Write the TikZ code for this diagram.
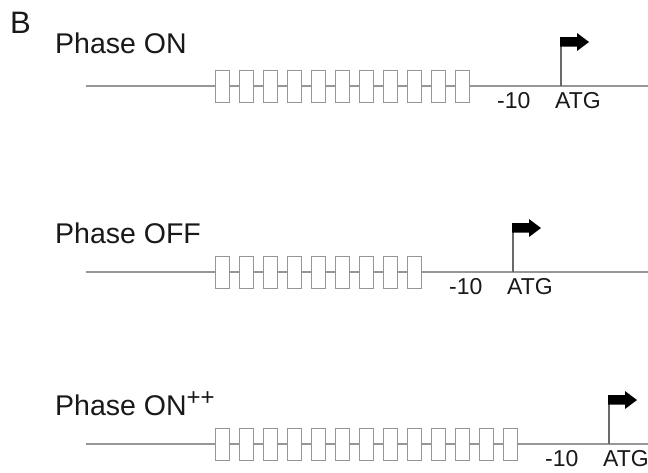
\documentclass[tikz,border=0pt]{standalone}
\usepackage{fontspec}
\setmainfont{Liberation Sans}
\definecolor{dna}{RGB}{150,150,150}
\definecolor{txt}{RGB}{25,25,25}
\begin{document}
\begin{tikzpicture}[x=1pt,y=-1pt,
  dnaline/.style={draw=dna,line width=1.6pt},
  repbox/.style={draw=dna,fill=white,line width=1.4pt,minimum width=14pt,minimum height=32pt,inner sep=0pt,anchor=north west},
  stem/.style={draw=dna!70!black,line width=1.6pt},
  flag/.style={fill=black,draw=none},
  label/.style={anchor=base west,inner sep=0pt,text=txt,font=\fontsize{28.5}{30}\selectfont},
  small/.style={anchor=base west,inner sep=0pt,text=txt,font=\fontsize{23}{24}\selectfont}]
\useasboundingbox (0,0) rectangle (648,472);
\fill[white] (0,0) rectangle (648,472);

\node[anchor=base west,inner sep=0pt,text=txt,font=\fontsize{31}{32}\selectfont] (panel) at (10,33) {B};

% rows: y of line, number of boxes
\foreach \row/\ly/\n/\ty/\lab in {1/86/11/53/{Phase ON},2/272/9/243/{Phase OFF},3/444/13/415/{Phase ON\raisebox{10pt}{\fontsize{24}{24}\selectfont ++}}}{
  \coordinate (L\row) at (86,\ly);
  \coordinate (R\row) at (650,\ly);
  \draw[dnaline] (L\row) -- (R\row);
  \node[label] (lab\row) at (55,\ty) {\lab};
  \pgfmathtruncatemacro{\last}{\n-1}
  \foreach \i in {0,...,\last}{
    \node[repbox] (b\row-\i) at ({215+24*\i},{\ly-16}) {};
  }
  \pgfmathsetmacro{\sx}{215+24*\last+15+91}
  \coordinate (S\row) at (\sx,\ly);
  \coordinate (T\row) at (\sx,\ly-49);
  \draw[stem] (S\row) -- (T\row);
  \fill[flag] (\sx-0.8,\ly-49) -- (\sx+16,\ly-49) -- (\sx+16,\ly-53) -- (\sx+28,\ly-44) -- (\sx+16,\ly-35) -- (\sx+16,\ly-39.5) -- (\sx-0.8,\ly-39.5) -- cycle;
  \node[small] (m\row) at (\sx-64,\ly+22) {-10};
  \node[small] (atg\row) at (\sx-6,\ly+22) {ATG};
}
\end{tikzpicture}
\end{document}
